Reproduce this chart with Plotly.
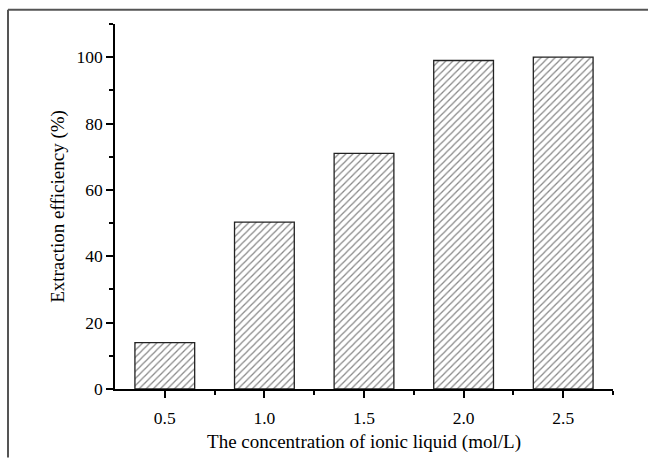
import plotly.graph_objects as go

concentration = [0.5, 1.0, 1.5, 2.0, 2.5]
efficiency = [14.0, 50.3, 71.0, 99.0, 100.0]
x_title = "The concentration of ionic liquid (mol/L)"
y_title = "Extraction efficiency (%)"

W, H = 648, 461
L, R, T, B = 115, 35, 24, 66
pw, ph = W - L - R, H - T - B

fig = go.Figure()
fig.add_trace(go.Bar(
    x=concentration, y=efficiency, width=0.3,
    marker=dict(color="white", line=dict(color="#222", width=1.3),
                pattern=dict(shape="/", fgcolor="#111", bgcolor="white", size=5, solidity=0.25)),
    showlegend=False,
))

font = "Liberation Serif, Times New Roman, serif"
fig.update_layout(
    width=W, height=H, margin=dict(l=L, r=R, t=T, b=B),
    paper_bgcolor="white", plot_bgcolor="white",
    font=dict(family=font, size=17.5, color="black"),
    xaxis=dict(range=[0.25, 2.75], tickvals=concentration, tickformat=".1f",
               ticks="outside", ticklen=7, tickwidth=1.5, tickcolor="black",
               ticklabelstandoff=5,
               showline=True, linecolor="black", linewidth=1.5, showgrid=False, zeroline=False,
               minor=dict(ticks="outside", ticklen=4, tickwidth=1.5, tickcolor="black",
                          tickvals=[0.75, 1.25, 1.75, 2.25, 2.75]),
               title=dict(text=x_title, font=dict(size=19), standoff=8)),
    yaxis=dict(range=[0, 110], tickvals=[0, 20, 40, 60, 80, 100],
               ticks="outside", ticklen=7, tickwidth=1.5, tickcolor="black",
               showline=True, linecolor="black", linewidth=1.5, showgrid=False, zeroline=False,
               minor=dict(ticks="outside", ticklen=4, tickwidth=1.5, tickcolor="black",
                          tickvals=[10, 30, 50, 70, 90, 110]),
               title=dict(text=y_title, font=dict(size=19), standoff=7)),
)

# outer frame lines (top and left) of the figure border
top_y = 1 + (T - 9.5) / ph
left_x = (8 - L) / pw
fig.add_shape(type="line", xref="paper", yref="paper", x0=left_x, x1=1 + R / pw + 0.01,
              y0=top_y, y1=top_y, line=dict(color="#555", width=2))
fig.add_shape(type="line", xref="paper", yref="paper", x0=left_x, x1=left_x,
              y0=top_y, y1=-B / ph - 0.01, line=dict(color="#555", width=2))

fig.write_html("out.html")
